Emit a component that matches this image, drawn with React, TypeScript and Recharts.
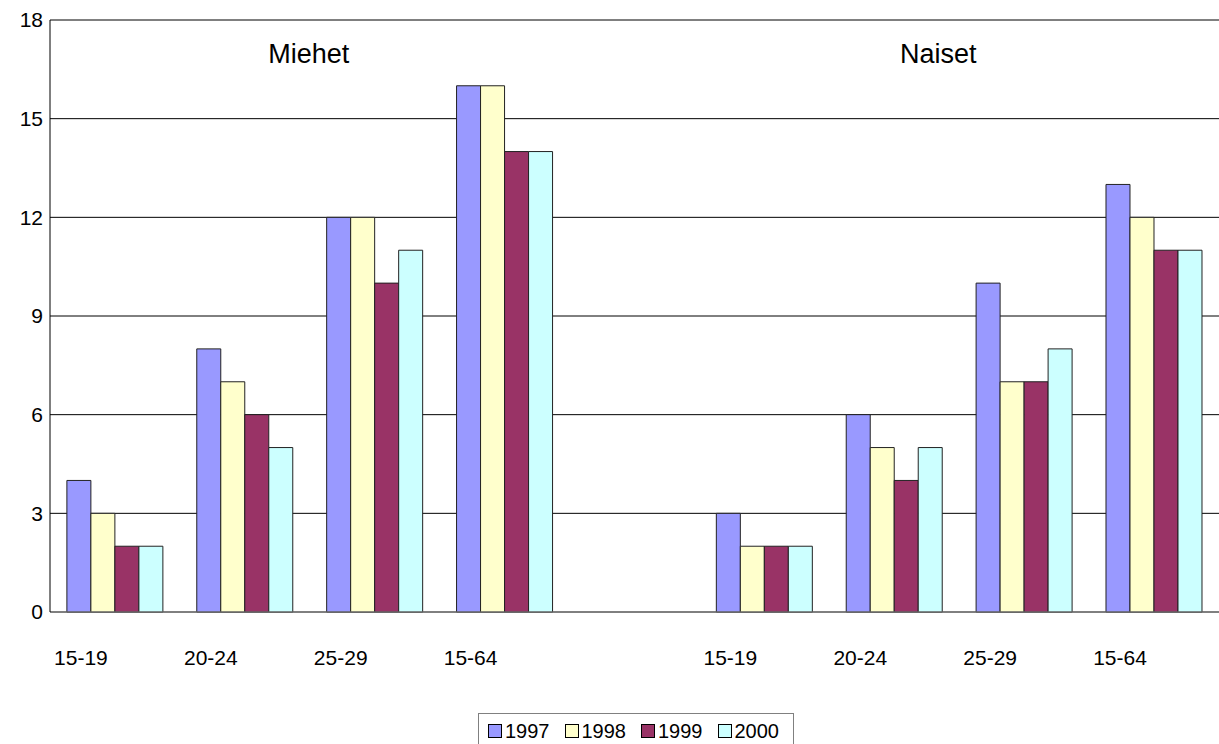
import React from "react";
import {
  BarChart,
  Bar,
  XAxis,
  YAxis,
  CartesianGrid,
  ReferenceArea,
} from "recharts";

// category labels (the empty slot separates the two groups)
const keys = ["m1", "m2", "m3", "m4", "gap", "n1", "n2", "n3", "n4"];
const labels = ["15-19", "20-24", "25-29", "15-64", "", "15-19", "20-24", "25-29", "15-64"];

const v1997 = [4, 8, 12, 16, null, 3, 6, 10, 13];
const v1998 = [3, 7, 12, 16, null, 2, 5, 7, 12];
const v1999 = [2, 6, 10, 14, null, 2, 4, 7, 11];
const v2000 = [2, 5, 11, 14, null, 2, 5, 8, 11];

const yTicks = [0, 3, 6, 9, 12, 15, 18];

const series = [
  { key: "y1997", name: "1997", color: "#9999FF" },
  { key: "y1998", name: "1998", color: "#FFFFCC" },
  { key: "y1999", name: "1999", color: "#993366" },
  { key: "y2000", name: "2000", color: "#CCFFFF" },
];

const data = keys.map((k, i) => ({
  key: k,
  label: labels[i],
  y1997: v1997[i],
  y1998: v1998[i],
  y1999: v1999[i],
  y2000: v2000[i],
}));

const FONT = "'Liberation Sans', Arial, sans-serif";

const XTick = ({ x, y, index }: any) => (
  <text
    x={x - 34}
    y={y + 51}
    textAnchor="middle"
    fontSize={21}
    fontFamily={FONT}
    fill="#000"
  >
    {labels[index]}
  </text>
);

export default function App() {
  return (
    <div style={{ position: "absolute", left: 0, top: 0, width: 1219, height: 744, background: "#fff", fontFamily: FONT, overflow: "hidden" }}>
      <BarChart
        width={1219}
        height={744}
        data={data}
        margin={{ top: 20, right: 0, left: 0, bottom: 102 }}
        barCategoryGap="13%"
        barGap={0}
      >
        <CartesianGrid vertical={false} stroke="#000" strokeWidth={1} />
        <XAxis
          dataKey="key"
          tick={<XTick />}
          tickLine={false}
          axisLine={{ stroke: "#808080" }}
          interval={0}
          tickSize={0}
          height={30}
        />
        <YAxis
          domain={[0, 18]}
          ticks={yTicks}
          width={50}
          tickLine={false}
          tickSize={5}
          axisLine={{ stroke: "#000" }}
          tick={{ fontSize: 21, fill: "#000", fontFamily: FONT }}
        />
        <ReferenceArea
          x1="m1"
          x2="m4"
          y1={0}
          y2={18}
          fillOpacity={0}
          strokeOpacity={0}
          label={{ value: "Miehet", position: "insideTop", offset: 24, fontSize: 27, fill: "#000", fontFamily: FONT, dx: -1 }}
        />
        <ReferenceArea
          x1="n1"
          x2="n4"
          y1={0}
          y2={18}
          fillOpacity={0}
          strokeOpacity={0}
          label={{ value: "Naiset", position: "insideTop", offset: 24, fontSize: 27, fill: "#000", fontFamily: FONT, dx: -21 }}
        />
        {series.map((s) => (
          <Bar
            key={s.key}
            dataKey={s.key}
            name={s.name}
            fill={s.color}
            stroke="#222"
            strokeWidth={1}
            isAnimationActive={false}
          />
        ))}
      </BarChart>
      <div
        style={{
          position: "absolute",
          left: 478,
          top: 713,
          width: 316,
          height: 34,
          border: "1px solid #808080",
          display: "flex",
          alignItems: "flex-start",
          paddingTop: 6,
          paddingLeft: 9,
          gap: 15,
          fontSize: 20,
          lineHeight: "22px",
          boxSizing: "border-box",
        }}
      >
        {series.map((s) => (
          <div key={s.key} style={{ display: "flex", alignItems: "center", gap: 3 }}>
            <span
              style={{
                display: "inline-block",
                width: 12,
                height: 12,
                background: s.color,
                border: "1px solid #000",
              }}
            />
            <span>{s.name}</span>
          </div>
        ))}
      </div>
    </div>
  );
}
